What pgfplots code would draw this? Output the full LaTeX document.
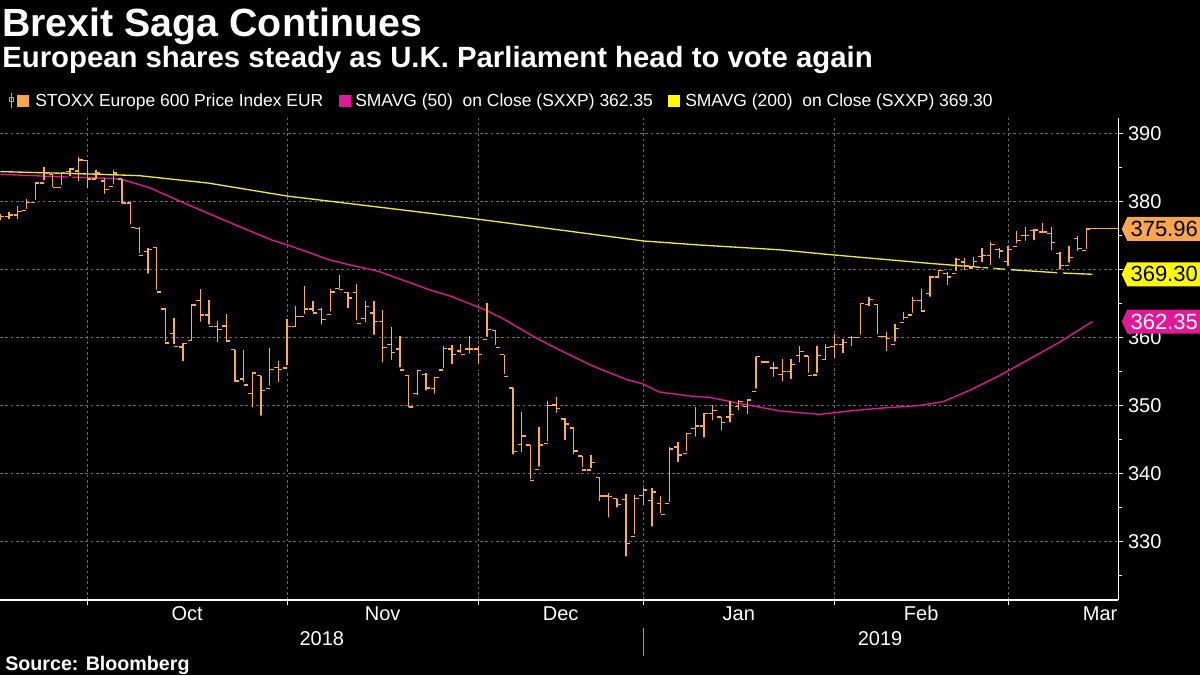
\documentclass[border=0pt]{standalone}
\usepackage{fontspec}
\setmainfont{Liberation Sans}
\usepackage{pgfplots}
\pgfplotsset{compat=1.18}
\usepackage{pgfplotstable}
\definecolor{barcol}{RGB}{250,172,85}
\definecolor{magcol}{RGB}{226,24,150}
\definecolor{yelcol}{RGB}{232,232,70}
\definecolor{yelbox}{RGB}{255,250,0}
\definecolor{orgbox}{RGB}{250,165,80}
\definecolor{gridcol}{RGB}{105,105,105}

\pgfdeclareplotmark{otick}{\pgfpathmoveto{\pgfqpoint{-\pgfplotmarksize}{0pt}}\pgfpathlineto{\pgfqpoint{0pt}{0pt}}\pgfusepathqstroke}
\pgfdeclareplotmark{ctick}{\pgfpathmoveto{\pgfqpoint{0pt}{0pt}}\pgfpathlineto{\pgfqpoint{\pgfplotmarksize}{0pt}}\pgfusepathqstroke}

% day index, open, high, low, close
\pgfplotstableread{
i o h l c
0 377.5 378.2 376.8 377.8
1 377.8 378.5 377.0 378.0
2 378.0 379.3 377.0 378.5
3 378.7 380.3 378.5 379.9
4 379.9 382.8 379.8 382.7
5 382.7 385.1 382.7 384.2
6 384.0 384.0 381.7 382.1
7 382.1 384.2 382.0 384.2
8 384.4 385.0 383.3 384.8
9 384.5 386.6 382.6 386.1
10 386.0 386.1 381.5 383.3
11 383.3 384.7 382.9 384.2
12 383.0 383.5 380.7 381.8
13 382.2 384.6 382.1 384.2
14 383.3 383.3 379.3 379.8
15 379.8 380.0 376.2 376.2
16 376.0 376.2 372.0 372.1
17 372.6 373.2 369.0 372.9
18 373.2 373.3 366.6 366.7
19 364.2 364.3 359.0 359.2
20 360.6 362.9 358.6 358.7
21 358.6 359.2 356.1 359.1
22 359.6 364.9 359.2 364.8
23 365.4 367.1 361.9 363.3
24 363.3 365.5 361.5 361.6
25 361.6 362.5 358.9 361.2
26 361.7 363.5 359.2 359.5
27 358.2 358.2 353.0 353.6
28 353.9 358.2 353.0 353.0
29 351.8 354.9 349.3 354.8
30 354.4 354.4 348.1 352.2
31 352.5 358.4 352.5 355.3
32 355.6 356.6 353.0 355.3
33 355.5 362.7 355.5 361.6
34 361.6 364.7 361.1 363.1
35 363.1 367.6 363.0 364.2
36 364.2 365.3 363.4 363.6
37 364.1 364.4 361.5 362.6
38 363.4 367.2 363.4 366.7
39 367.2 369.2 366.8 367.1
40 366.6 366.7 363.9 365.8
41 366.6 367.9 362.1 362.1
42 362.8 365.3 361.8 364.6
43 363.6 365.4 360.0 362.4
44 362.4 364.1 355.9 358.5
45 359.0 361.5 356.3 357.8
46 358.3 360.2 355.2 355.2
47 354.4 354.4 349.3 349.8
48 351.8 355.2 351.1 355.1
49 354.6 354.8 351.8 352.6
50 352.5 354.2 351.3 354.1
51 355.2 358.7 355.1 358.4
52 358.3 358.9 355.7 357.5
53 358.0 359.0 357.3 357.5
54 358.3 360.2 357.2 358.3
55 358.3 358.7 355.7 357.5
56 359.7 365.1 359.7 361.2
57 361.0 361.0 358.5 358.5
58 357.5 357.5 354.2 354.3
59 352.6 352.6 342.4 343.2
60 344.3 349.1 342.7 345.5
61 344.2 344.2 338.8 339.0
62 340.6 346.8 340.6 344.2
63 344.4 350.6 344.3 350.0
64 350.1 351.3 348.5 349.6
65 348.0 348.2 344.5 347.3
66 346.7 346.8 342.4 343.3
67 342.6 342.6 340.5 340.5
68 340.5 342.7 340.4 341.6
69 339.4 339.4 335.5 336.7
70 336.7 337.1 333.1 336.6
71 336.3 336.3 334.6 335.4
72 336.2 337.0 327.4 329.7
73 330.7 336.9 330.7 336.3
74 336.8 337.9 334.9 337.6
75 336.0 337.8 331.8 337.3
76 335.6 336.7 333.7 334.0
77 335.6 343.9 335.4 343.6
78 343.9 344.7 341.3 342.7
79 342.9 345.9 342.9 345.9
80 346.6 349.8 345.0 347.0
81 347.0 348.9 344.9 348.8
82 348.8 350.1 347.4 349.3
83 348.3 348.3 345.9 347.5
84 348.3 350.6 347.1 348.7
85 349.9 350.8 348.9 350.6
86 349.9 351.0 348.3 350.8
87 352.1 357.2 352.1 357.2
88 356.4 356.5 355.8 356.4
89 355.5 356.4 353.8 355.5
90 354.6 356.9 353.1 355.0
91 355.0 356.8 353.5 356.0
92 357.4 358.8 355.9 357.9
93 357.3 357.3 354.4 354.4
94 354.5 358.8 354.4 357.4
95 356.8 359.0 356.3 358.5
96 358.7 360.5 356.5 359.0
97 359.0 359.8 357.3 359.3
98 360.0 360.2 358.3 360.0
99 360.0 365.0 360.0 365.0
100 364.9 366.0 364.2 365.6
101 364.9 365.0 360.1 360.1
102 360.1 360.8 357.6 359.9
103 359.0 362.0 359.0 361.3
104 362.2 363.7 362.2 362.9
105 363.3 365.9 363.2 365.4
106 365.4 367.1 363.7 363.9
107 366.5 369.1 365.6 368.9
108 368.9 370.0 368.6 369.9
109 369.4 369.6 367.3 368.9
110 369.4 371.7 369.4 371.5
111 371.1 371.7 369.5 370.5
112 370.2 371.9 369.9 371.2
113 371.9 373.2 370.7 372.1
114 372.1 374.1 370.2 373.7
115 372.9 373.1 371.2 372.7
116 371.2 373.4 370.1 372.9
117 373.4 375.7 373.4 374.3
118 375.0 376.3 373.8 375.0
119 375.7 376.0 373.9 375.8
120 375.5 376.9 375.2 375.5
121 375.3 376.3 372.4 374.0
122 372.4 372.6 369.6 370.6
123 370.6 373.4 370.6 371.8
124 374.6 375.0 372.3 373.1
125 372.8 376.0 372.6 375.96
}\stoxx

\pgfplotstableread{
i v
0 384.0
7.6 383.6
12.9 383.4
14.1 383.2
17.2 382.0
20.9 379.9
27.5 376.3
31.3 374.3
33.3 373.5
37.9 371.4
39.8 370.8
43.6 369.7
49.4 367.0
52.0 366.0
55.9 364.0
57.8 362.8
61.7 359.9
64.3 358.2
68.0 355.9
72.1 353.8
73.9 353.2
75.8 352.0
79.3 351.4
81.6 351.2
85.1 350.3
89.7 349.2
94.3 348.7
97.7 349.2
101.2 349.6
105.8 350.0
108.6 350.6
111.5 352.2
115.0 354.4
118.4 356.8
121.9 359.3
125.7 362.35
}\smafifty

\pgfplotstableread{
i v
0 384.4
11.5 384.0
16 383.8
24 382.7
33 380.8
46 378.8
55 377.4
74 374.2
80.5 373.6
89.7 372.9
95.4 372.2
107 370.9
116 370.0
122 369.5
125.7 369.30
}\smatwohundred

\begin{document}
\begin{tikzpicture}
\fill[black] (0pt,0pt) rectangle (900pt,506.25pt);

\begin{axis}[
  at={(0pt,56.25pt)}, anchor=south west,
  scale only axis, width=838.5pt, height=361.5pt,
  xmin=-0.05, xmax=128.66, ymin=321.4, ymax=392.28,
  axis x line*=bottom, axis y line*=right,
  axis line style={white, line width=0.75pt, -},
  clip=false,
  xtick={10,33,55,74,96,116}, xticklabels={},
  extra x ticks={21.5,44,64.5,85,106,126.6},
  extra x tick labels={Oct,Nov,Dec,Jan,Feb,Mar},
  extra x tick style={grid=none, major tick length=0pt,
     tick label style={font=\fontsize{15}{15}\selectfont, text=white, anchor=base, yshift=-15.75pt}},
  ytick={330,340,...,390}, minor ytick={325,335,...,385},
  yticklabels={330,340,350,360,,380,390},
  xmajorgrids, ymajorgrids,
  major grid style={gridcol, dash pattern=on 2pt off 2pt, line width=0.6pt},
  tick style={white, line width=0.75pt},
  major tick length=4pt, minor tick length=3pt, tick align=outside,
  yticklabel style={text=white, font=\fontsize{15}{15}\selectfont, anchor=west},
]
\addplot[yelcol, line width=1pt, forget plot] table[x=i, y=v] {\smatwohundred};
\addplot[magcol, line width=1pt, forget plot] table[x=i, y=v] {\smafifty};
\addplot[only marks, mark=none, forget plot,
  error bars/.cd, y dir=plus, y explicit, error mark=none,
  error bar style={draw=barcol, line width=1pt, solid}]
  table[x=i, y=l, y error expr=\thisrow{h}-\thisrow{l}] {\stoxx};
\addplot[only marks, mark=otick, mark size=3pt, barcol, line width=1pt, forget plot] table[x=i, y=o] {\stoxx};
\addplot[only marks, mark=ctick, mark size=3pt, barcol, line width=1pt, forget plot] table[x=i, y=c] {\stoxx};
\addplot[barcol, line width=0.75pt, forget plot] coordinates {(125,375.96) (128.66,375.96)};

\coordinate (LA) at (axis cs:128.66,375.96);
\coordinate (LB) at (axis cs:128.66,369.30);
\coordinate (LC) at (axis cs:128.66,362.35);

\node[anchor=base, text=white, font=\fontsize{15}{15}\selectfont, inner sep=0pt] at (axis cs:37,321.4) [yshift=-33.75pt] {2018};
\node[anchor=base, text=white, font=\fontsize{15}{15}\selectfont, inner sep=0pt] at (axis cs:101.26,321.4) [yshift=-33.75pt] {2019};
\draw[gray!80, line width=0.6pt] (axis cs:74,321.4) ++(0pt,-21pt) -- ++(0pt,-21pt);
\end{axis}

% value labels at right
\foreach \nm/\col/\tcol/\txt in {LA/orgbox/black/375.96, LB/yelbox/black/369.30, LC/magcol/white/362.35}{
  \fill[\col] ([xshift=2.8pt]\nm) -- ([xshift=7pt,yshift=9pt]\nm) -- ([xshift=62pt,yshift=9pt]\nm)
     -- ([xshift=62pt,yshift=-9pt]\nm) -- ([xshift=7pt,yshift=-9pt]\nm) -- cycle;
  \node[anchor=west, inner sep=0pt, text=\tcol, font=\fontsize{16.5}{16.5}\selectfont] at ([xshift=9.2pt]\nm) {\txt};
}

% titles
\node[anchor=base west, inner sep=0pt, text=white, font=\fontsize{29.5}{30}\selectfont\bfseries] at (1.5pt,478.5pt) {Brexit Saga Continues};
\node[anchor=base west, inner sep=0pt, text=white, font=\fontsize{22}{22}\selectfont\bfseries] at (1.5pt,455.25pt) {European shares steady as U.K. Parliament head to vote again};

% legend
\draw[gray!70, line width=0.5pt] (8.25pt,436.5pt) -- (8.25pt,425.25pt);
\draw[gray!70, line width=0.5pt] (6.75pt,433.5pt) rectangle (9.75pt,430.5pt);
\fill[orgbox] (12.75pt,426pt) rectangle (21.75pt,435pt);
\node[anchor=base west, inner sep=0pt, text=white, font=\fontsize{13.1}{13}\selectfont] at (26.25pt,426pt) {STOXX Europe 600 Price Index EUR};
\fill[magcol] (254.25pt,426pt) rectangle (263.25pt,435pt);
\node[anchor=base west, inner sep=0pt, text=white, font=\fontsize{13.1}{13}\selectfont] at (266.25pt,426pt) {SMAVG (50)\ \ on Close (SXXP) 362.35};
\fill[yelbox] (501pt,426pt) rectangle (510pt,435pt);
\node[anchor=base west, inner sep=0pt, text=white, font=\fontsize{13.1}{13}\selectfont] at (513.75pt,426pt) {SMAVG (200)\ \ on Close (SXXP) 369.30};

% source
\node[anchor=base west, inner sep=0pt, text=white, font=\fontsize{14.75}{15}\selectfont\bfseries] at (3.75pt,3.75pt) {Source: Bloomberg};

\pgfresetboundingbox
\useasboundingbox (0pt,0pt) rectangle (900pt,506.25pt);
\end{tikzpicture}
\end{document}
